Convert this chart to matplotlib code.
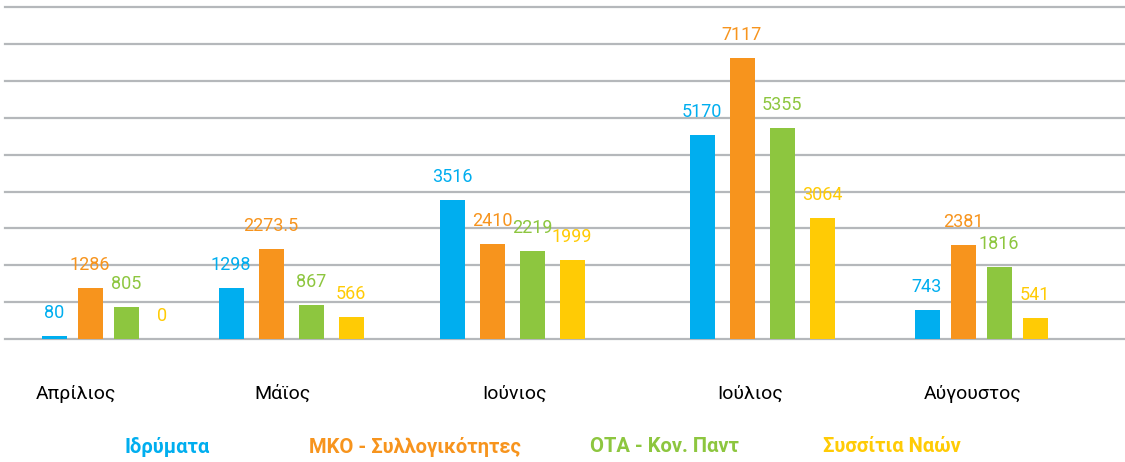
import numpy as np
import matplotlib
matplotlib.use("Agg")
import matplotlib.pyplot as plt

# data
months = ["Απρίλιος", "Μάϊος", "Ιούνιος", "Ιούλιος", "Αύγουστος"]
series_names = ["Ιδρύματα", "ΜΚΟ - Συλλογικότητες", "ΟΤΑ - Κον. Παντ", "Συσσίτια Ναών"]
idrymata = [80, 1298, 3516, 5170, 743]
mko = [1286, 2273.5, 2410, 7117, 2381]
ota = [805, 867, 2219, 5355, 1816]
syssitia = [0, 566, 1999, 3064, 541]
value_labels = [
    ["80", "1298", "3516", "5170", "743"],
    ["1286", "2273.5", "2410", "7117", "2381"],
    ["805", "867", "2219", "5355", "1816"],
    ["0", "566", "1999", "3064", "541"],
]

colors = ["#00AEEF", "#F7941D", "#8DC63F", "#FFCB05"]

# layout (pixel-like x coordinates)
group_centers = [108, 291, 512, 762, 981]
group_spacing = [36, 40, 40, 40, 36]
month_label_x = [76, 282, 514, 750, 973]
legend_x = [167, 415, 664, 892]
bar_width = 25
ymax = 8400

plt.rcParams['font.family'] = ['Roboto', 'DejaVu Sans']

fig = plt.figure(figsize=(11.25, 4.62), dpi=100)
ax = fig.add_axes([5 / 1125, (462 - 339) / 462, 1 - 5 / 1125, (339 - 7.3) / 462])
ax.set_xlim(5, 1125)
ax.set_ylim(0, ymax)

# horizontal grid lines behind the bars
for y in np.linspace(0, ymax, 10):
    ax.axhline(y, color="#b5b8bb", lw=1.6, zorder=0, clip_on=False)

all_series = [idrymata, mko, ota, syssitia]
for i, vals in enumerate(all_series):
    xs = [c + (i - 1.5) * s for c, s in zip(group_centers, group_spacing)]
    ax.bar(xs, vals, width=bar_width, color=colors[i], zorder=2)
    for x, v, lab in zip(xs, vals, value_labels[i]):
        ax.annotate(lab, (x, v), xytext=(0, 10), textcoords="offset points",
                    ha="center", va="bottom", color=colors[i], fontsize=13)

ax.set_xticks(month_label_x)
ax.set_xticklabels(months, fontsize=14)
ax.tick_params(axis="x", length=0, pad=33)
ax.set_yticks([])
for sp in ax.spines.values():
    sp.set_visible(False)

for name, x, c in zip(series_names, legend_x, colors):
    fig.text(x / 1125, 1 - 447 / 462, name, color=c, fontsize=14.5,
             fontweight="bold", ha="center", va="center")

fig.savefig("out.png", dpi=100)
